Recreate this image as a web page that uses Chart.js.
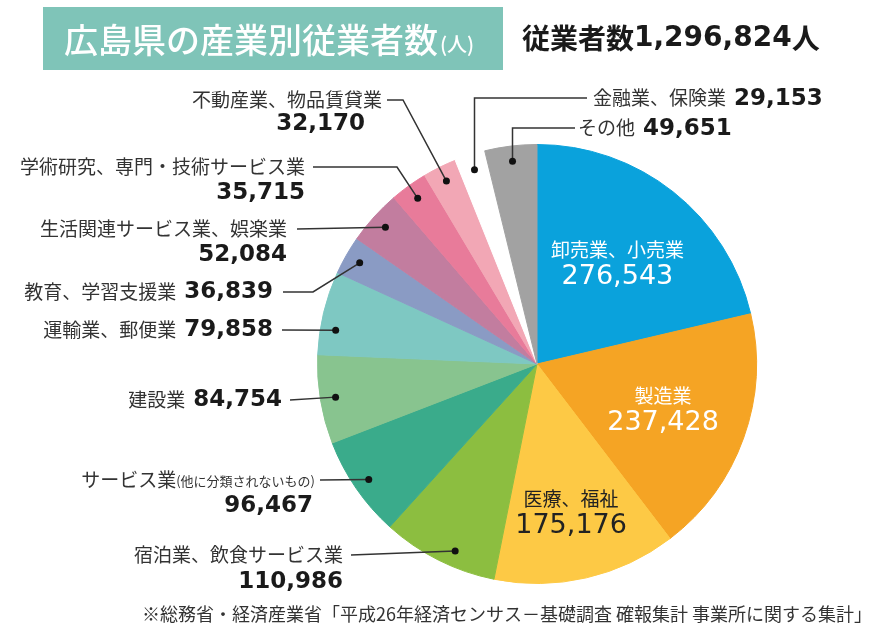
<!DOCTYPE html>
<html lang="ja">
<head>
<meta charset="utf-8">
<title>広島県の産業別従業者数</title>
<script src="https://cdn.jsdelivr.net/npm/chart.js@4/dist/chart.umd.min.js"></script>
<style>
  html, body { margin: 0; padding: 0; background: #ffffff; }
  #wrap { width: 886px; height: 644px; }
</style>
</head>
<body>
<div id="wrap"><canvas id="pieChart" width="886" height="644"></canvas></div>
<script>
// 産業分類（時計回り、12時から）
const categories = [
  '卸売業、小売業',
  '製造業',
  '医療、福祉',
  '宿泊業、飲食サービス業',
  'サービス業(他に分類されないもの)',
  '建設業',
  '運輸業、郵便業',
  '教育、学習支援業',
  '生活関連サービス業、娯楽業',
  '学術研究、専門・技術サービス業',
  '不動産業、物品賃貸業',
  '金融業、保険業',
  'その他'
];

// 従業者数（人）
const employees = [276543, 237428, 175176, 110986, 96467, 84754, 79858, 36839, 52084, 35715, 32170, 29153, 49651];

const sliceColors = [
  '#0aa2dc', '#f5a424', '#fdc945', '#8cbe40', '#3aab8b', '#88c48f', '#7ec8c2',
  '#8a9bc4', '#c27d9f', '#e87b9a', '#f2a7b5', '#ffffff', '#a2a2a2'
];

const titleText = '広島県の産業別従業者数';
const titleUnit = '(人)';
const sourceNote = '※総務省・経済産業省「平成26年経済センサス－基礎調査 確報集計 事業所に関する集計」';

// ラベルの配置（注記用）
const labelLayout = [
  { kind: 'inner', r: 0.59, color: '#ffffff' },
  { kind: 'inner', r: 0.61, color: '#ffffff' },
  { kind: 'inner', r: 0.69, color: '#222222' },
  { kind: 'two', x: 343, y: 555, vy: 582, lx: 351, at: 0.4 },
  { kind: 'two', x: 315, y: 480, vx: 313, vy: 506, lx: 320 },
  { kind: 'inline', x: 282, y: 400, lx: 290 },
  { kind: 'inline', x: 273, y: 330, lx: 282, at: 0.32 },
  { kind: 'inline', x: 273, y: 292, lx: 283, ex: 313 },
  { kind: 'two', x: 287, y: 229, vy: 255, lx: 297 },
  { kind: 'two', x: 305, y: 167, vy: 193, lx: 313, ex: 397 },
  { kind: 'two', x: 382, y: 100, vx: 365, vy: 124, lx: 387, ex: 403 },
  { kind: 'left', x: 593, y: 98, lx: 587, vert: true },
  { kind: 'left', x: 578, y: 128, lx: 575, vert: true }
];

const JP = "'Noto Sans CJK JP', 'Noto Sans', sans-serif";
const NUM = "'DejaVu Sans', 'Noto Sans CJK JP', sans-serif";
const fmt = v => v.toLocaleString('en-US');
const total = employees.reduce((a, b) => a + b, 0);

const decorPlugin = {
  id: 'decor',
  afterDraw(chart) {
    const ctx = chart.ctx;
    ctx.save();

    // タイトル
    ctx.fillStyle = '#7fc4b8';
    ctx.fillRect(43, 7, 460, 63);
    ctx.fillStyle = '#ffffff';
    ctx.textBaseline = 'middle';
    ctx.textAlign = 'left';
    ctx.font = '500 34px ' + JP;
    ctx.fillText(titleText, 64, 40);
    const tw = ctx.measureText(titleText).width;
    ctx.font = '500 20px ' + JP;
    ctx.fillText(titleUnit, 64 + tw + 2, 44);

    // 合計
    ctx.fillStyle = '#1a1a1a';
    ctx.font = 'bold 28px ' + JP;
    ctx.fillText('従業者数', 522, 38);
    let x = 522 + ctx.measureText('従業者数').width;
    ctx.font = 'bold 28px ' + NUM;
    ctx.fillText(fmt(total), x, 39);
    x += ctx.measureText(fmt(total)).width;
    ctx.font = 'bold 28px ' + JP;
    ctx.fillText('人', x, 38);

    // 出典
    ctx.fillStyle = '#333333';
    ctx.font = '18px ' + JP;
    ctx.textAlign = 'right';
    ctx.fillText(sourceNote, 872, 614);

    // ラベル
    const meta = chart.getDatasetMeta(0);
    meta.data.forEach((arc, i) => {
      const p = arc.getProps(['x', 'y', 'startAngle', 'endAngle', 'outerRadius'], true);
      const L = labelLayout[i];
      const value = fmt(employees[i]);
      const name = categories[i];

      if (L.kind === 'inner') {
        const a = (p.startAngle + p.endAngle) / 2;
        const cx = p.x + Math.cos(a) * p.outerRadius * L.r;
        const cy = p.y + Math.sin(a) * p.outerRadius * L.r;
        ctx.fillStyle = L.color;
        ctx.textAlign = 'center';
        ctx.font = '19px ' + JP;
        ctx.fillText(name, cx, cy - 13);
        ctx.font = '27px ' + NUM;
        ctx.fillText(value, cx, cy + 14);
        return;
      }

      const f = L.at !== undefined ? L.at : 0.5;
      const a = p.startAngle + (p.endAngle - p.startAngle) * f;
      const dot = {
        x: p.x + Math.cos(a) * p.outerRadius * 0.93,
        y: p.y + Math.sin(a) * p.outerRadius * 0.93
      };

      // 引き出し線
      ctx.strokeStyle = '#333333';
      ctx.lineWidth = 1.5;
      ctx.beginPath();
      ctx.moveTo(L.lx, L.y);
      if (L.ex !== undefined) ctx.lineTo(L.ex, L.y);
      if (L.vert) ctx.lineTo(dot.x, L.y);
      ctx.lineTo(dot.x, dot.y);
      ctx.stroke();
      ctx.fillStyle = '#111111';
      ctx.beginPath();
      ctx.arc(dot.x, dot.y, 3.5, 0, Math.PI * 2);
      ctx.fill();

      const paren = name.indexOf('(');
      const main = paren >= 0 ? name.slice(0, paren) : name;
      const small = paren >= 0 ? name.slice(paren) : '';
      const numFont = 'bold 23px ' + NUM;

      if (L.kind === 'two') {
        ctx.textAlign = 'right';
        ctx.fillStyle = '#333333';
        let nx = L.x;
        if (small) {
          ctx.font = '13px ' + JP;
          ctx.fillText(small, nx, L.y + 1);
          nx -= ctx.measureText(small).width;
        }
        ctx.font = '19px ' + JP;
        ctx.fillText(main, nx, L.y);
        ctx.fillStyle = '#1a1a1a';
        ctx.font = numFont;
        ctx.fillText(value, L.vx !== undefined ? L.vx : L.x, L.vy);
      } else if (L.kind === 'inline') {
        ctx.textAlign = 'right';
        ctx.fillStyle = '#1a1a1a';
        ctx.font = numFont;
        ctx.fillText(value, L.x, L.y);
        const vw = ctx.measureText(value).width;
        ctx.fillStyle = '#333333';
        ctx.font = '19px ' + JP;
        ctx.fillText(main, L.x - vw - 8, L.y);
      } else {
        ctx.textAlign = 'left';
        ctx.fillStyle = '#333333';
        ctx.font = '19px ' + JP;
        ctx.fillText(main, L.x, L.y);
        const nw = ctx.measureText(main).width;
        ctx.fillStyle = '#1a1a1a';
        ctx.font = numFont;
        ctx.fillText(value, L.x + nw + 8, L.y + 1);
      }
    });

    ctx.restore();
  }
};

new Chart(document.getElementById('pieChart'), {
  type: 'pie',
  data: {
    labels: categories,
    datasets: [{
      data: employees,
      backgroundColor: sliceColors,
      borderColor: sliceColors,
      borderWidth: 1
    }]
  },
  options: {
    responsive: false,
    animation: false,
    layout: {
      padding: { left: 317, right: 129, top: 144, bottom: 60 }
    },
    plugins: {
      legend: { display: false },
      tooltip: { enabled: false },
      title: { display: false }
    }
  },
  plugins: [decorPlugin]
});
</script>
</body>
</html>
